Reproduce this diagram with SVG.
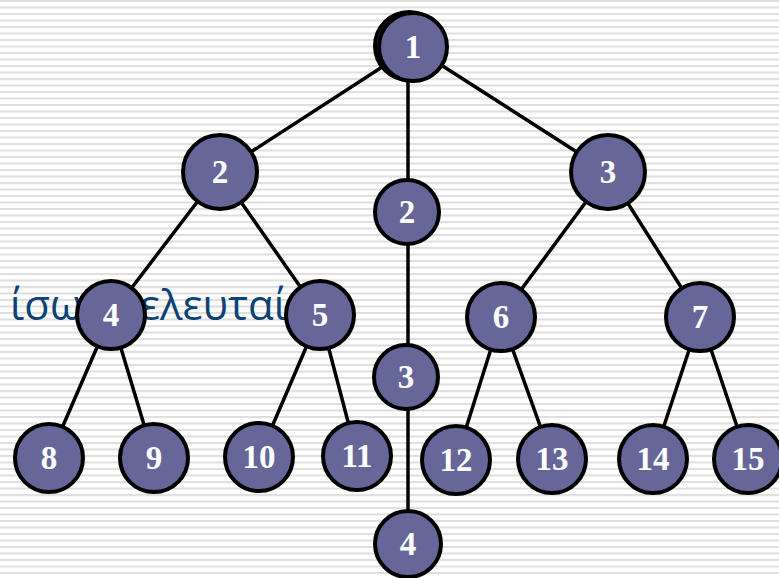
<svg xmlns="http://www.w3.org/2000/svg" width="779" height="578" viewBox="0 0 779 578">
  <defs>
    <pattern id="stripes" width="10" height="6.5" patternUnits="userSpaceOnUse">
      <rect x="0" y="0" width="10" height="2" fill="#dedede"/>
    </pattern>
  </defs>
  <style>
    .node circle { fill: #666699; stroke: #000; stroke-width: 4; }
    .node text { fill: #fff; font-family: "Liberation Serif", "Times New Roman", serif; font-weight: bold; font-size: 33px; text-anchor: middle; }
    .edges line { stroke: #000; stroke-width: 3.5; stroke-linecap: round; }
    .caption { fill: #0c4275; font-family: "Open Sans", "Noto Sans", sans-serif; font-size: 42px; }
  </style>

  <!-- lined background -->
  <rect width="779" height="578" fill="#ffffff"/>
  <rect width="779" height="578" fill="url(#stripes)"/>

  <!-- caption text partly hidden behind the nodes -->
  <text class="caption" x="10" y="320">ίσω</text>
  <text class="caption" x="140" y="320">ελευταί</text>

  <g class="edges" id="edges">
    <line x1="413" y1="47" x2="220" y2="172"/>
    <line x1="413" y1="47" x2="608" y2="172"/>
    <line x1="408" y1="47" x2="408" y2="544"/>
    <line x1="220" y1="172" x2="111" y2="315"/>
    <line x1="220" y1="172" x2="320" y2="315"/>
    <line x1="608" y1="172" x2="501" y2="317"/>
    <line x1="608" y1="172" x2="700" y2="317"/>
    <line x1="111" y1="315" x2="49" y2="458"/>
    <line x1="111" y1="315" x2="154" y2="458"/>
    <line x1="320" y1="315" x2="259" y2="457"/>
    <line x1="320" y1="315" x2="357" y2="456"/>
    <line x1="501" y1="317" x2="456" y2="460"/>
    <line x1="501" y1="317" x2="552" y2="459"/>
    <line x1="700" y1="317" x2="653" y2="459"/>
    <line x1="700" y1="317" x2="748" y2="459"/>
  </g>

  <g class="node" id="n1">
    <circle cx="409" cy="46" r="34"/>
    <circle cx="413" cy="47" r="34"/>
    <text x="413" y="58">1</text>
  </g>
  <g class="node" id="n2"><circle cx="220" cy="172" r="37"/><text x="220" y="183">2</text></g>
  <g class="node" id="n3"><circle cx="608" cy="172" r="37"/><text x="608" y="183">3</text></g>
  <g class="node" id="m2"><circle cx="407" cy="212" r="32"/><text x="407" y="223">2</text></g>
  <g class="node" id="m3"><circle cx="406" cy="377" r="32"/><text x="406" y="388">3</text></g>
  <g class="node" id="m4"><circle cx="408" cy="544" r="33"/><text x="408" y="555">4</text></g>
  <g class="node" id="n4"><circle cx="111" cy="315" r="34"/><text x="111" y="326">4</text></g>
  <g class="node" id="n5"><circle cx="320" cy="315" r="34"/><text x="320" y="326">5</text></g>
  <g class="node" id="n6"><circle cx="501" cy="317" r="34"/><text x="501" y="328">6</text></g>
  <g class="node" id="n7"><circle cx="700" cy="317" r="34"/><text x="700" y="328">7</text></g>
  <g class="node" id="n8"><circle cx="49" cy="458" r="34"/><text x="49" y="469">8</text></g>
  <g class="node" id="n9"><circle cx="154" cy="458" r="34"/><text x="154" y="469">9</text></g>
  <g class="node" id="n10"><circle cx="259" cy="457" r="34"/><text x="259" y="468">10</text></g>
  <g class="node" id="n11"><circle cx="357" cy="456" r="34"/><text x="357" y="467">11</text></g>
  <g class="node" id="n12"><circle cx="456" cy="460" r="34"/><text x="456" y="471">12</text></g>
  <g class="node" id="n13"><circle cx="552" cy="459" r="34"/><text x="552" y="470">13</text></g>
  <g class="node" id="n14"><circle cx="653" cy="459" r="34"/><text x="653" y="470">14</text></g>
  <g class="node" id="n15"><circle cx="748" cy="459" r="34"/><text x="748" y="470">15</text></g>
</svg>
